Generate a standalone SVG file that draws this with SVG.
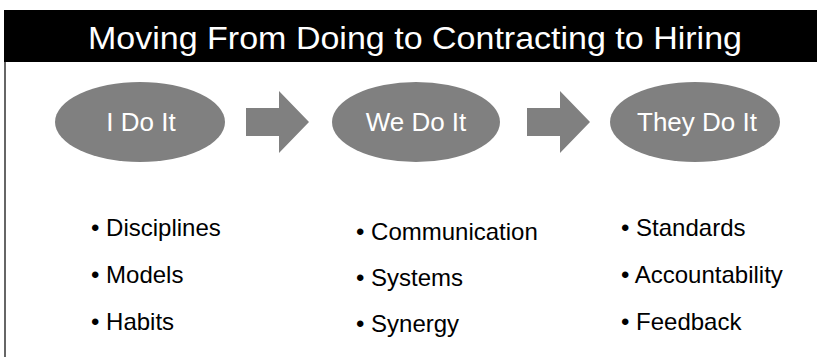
<svg xmlns="http://www.w3.org/2000/svg" width="817" height="357" viewBox="0 0 817 357">
<style>
.title{font-family:"Liberation Sans",Arial,sans-serif;font-size:32px;fill:#fff}
.ell{fill:#808080}
.el-t{font-family:"Liberation Sans",Arial,sans-serif;font-size:26px;fill:#fff;text-anchor:middle}
.arrow{fill:#808080}
.item{font-family:"Liberation Sans",Arial,sans-serif;font-size:24px;fill:#000}
</style>
<rect width="817" height="357" fill="#fff"/>
<g id="frame">
<rect x="4" y="10" width="813" height="52" fill="#000"/>
<line x1="5" y1="62" x2="5" y2="357" stroke="#333" stroke-width="1.5"/>
<text class="title" x="415" y="49" text-anchor="middle" textLength="654" lengthAdjust="spacingAndGlyphs">Moving From Doing to Contracting to Hiring</text>
</g>
<g id="node-i">
<ellipse class="ell" cx="140" cy="122" rx="85" ry="40"/>
<text class="el-t" x="141" y="131">I Do It</text>
</g>
<g id="node-we">
<ellipse class="ell" cx="416" cy="122" rx="84" ry="40"/>
<text class="el-t" x="416" y="131">We Do It</text>
</g>
<g id="node-they">
<ellipse class="ell" cx="695" cy="122" rx="85" ry="40"/>
<text class="el-t" x="697" y="131">They Do It</text>
</g>
<g id="connectors">
<polygon class="arrow" points="246,108 279,108 279,91 309,122 279,153 279,136 246,136"/>
<polygon class="arrow" points="527,108 560,108 560,91 590,122 560,153 560,136 527,136"/>
</g>
<g id="list-i">
<text class="item" x="91" y="236">• Disciplines</text>
<text class="item" x="91" y="283">• Models</text>
<text class="item" x="91" y="330">• Habits</text>
</g>
<g id="list-we">
<text class="item" x="356" y="240">• Communication</text>
<text class="item" x="356" y="286">• Systems</text>
<text class="item" x="356" y="332">• Synergy</text>
</g>
<g id="list-they">
<text class="item" x="621" y="236">• Standards</text>
<text class="item" x="621" y="283">• Accountability</text>
<text class="item" x="621" y="330">• Feedback</text>
</g>
</svg>
